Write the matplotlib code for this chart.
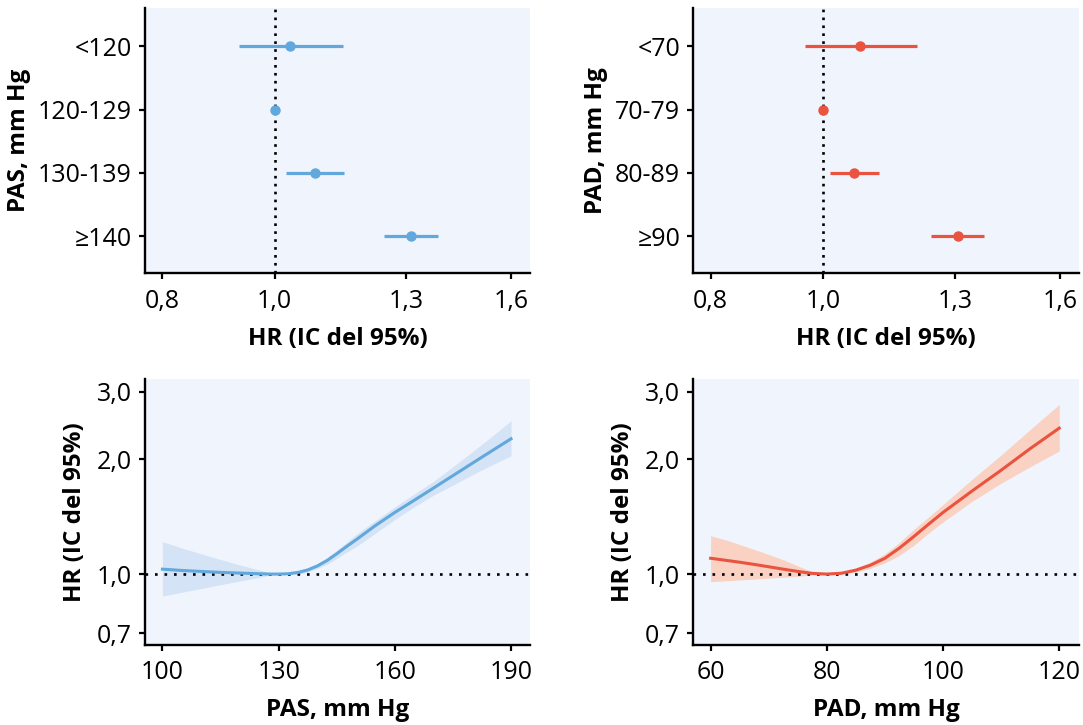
import numpy as np
import matplotlib
matplotlib.use('Agg')
import matplotlib.pyplot as plt
from matplotlib.ticker import FixedLocator, NullLocator

plt.rcParams['font.family'] = ['Open Sans', 'DejaVu Sans']

# forest plots (HR, IC 95%)
pas_cat = ['<120', '120-129', '130-139', '≥140']
pas_hr = [1.032, 1.0, 1.083, 1.311]
pas_lo = [0.931, 1.0, 1.023, 1.244]
pas_hi = [1.145, 1.0, 1.148, 1.384]

pad_cat = ['<70', '70-79', '80-89', '≥90']
pad_hr = [1.077, 1.0, 1.063, 1.306]
pad_lo = [0.964, 1.0, 1.014, 1.240]
pad_hi = [1.204, 1.0, 1.117, 1.376]

# spline curves
pas_x = [100, 105, 110, 115, 120, 125, 128, 130, 132.5, 135, 137.5, 140, 142.5, 145,
         147.5, 150, 155, 160, 165, 170, 175, 180, 185, 190]
pas_y = [1.03, 1.022, 1.016, 1.01, 1.006, 1.002, 1.0, 1.0, 1.002, 1.01, 1.025, 1.05, 1.085, 1.13,
         1.18, 1.23, 1.34, 1.45, 1.56, 1.68, 1.81, 1.95, 2.10, 2.26]
pas_ylo = [0.876, 0.896, 0.917, 0.938, 0.959, 0.98, 0.995, 1.0, 0.998, 1.0, 1.012, 1.035, 1.06, 1.10,
           1.14, 1.18, 1.28, 1.39, 1.50, 1.61, 1.71, 1.82, 1.93, 2.04]
pas_yhi = [1.215, 1.17, 1.13, 1.092, 1.056, 1.025, 1.006, 1.0, 1.006, 1.02, 1.04, 1.065, 1.105, 1.155,
           1.21, 1.27, 1.38, 1.50, 1.62, 1.75, 1.91, 2.09, 2.29, 2.52]

pad_x = [60, 62.5, 65, 67.5, 70, 72.5, 75, 77.5, 80, 82.5, 85, 87.5, 90, 92.5, 95, 97.5,
         100, 105, 110, 115, 120]
pad_y = [1.10, 1.087, 1.074, 1.06, 1.045, 1.03, 1.016, 1.004, 1.0, 1.005, 1.024, 1.055, 1.10, 1.17,
         1.255, 1.35, 1.45, 1.65, 1.87, 2.13, 2.41]
pad_ylo = [0.955, 0.96, 0.965, 0.97, 0.976, 0.981, 0.987, 0.995, 1.0, 1.0, 1.012, 1.035, 1.07, 1.12,
           1.19, 1.28, 1.37, 1.55, 1.73, 1.91, 2.10]
pad_yhi = [1.26, 1.23, 1.195, 1.16, 1.125, 1.09, 1.05, 1.015, 1.0, 1.01, 1.035, 1.075, 1.13, 1.21,
           1.31, 1.41, 1.52, 1.77, 2.05, 2.39, 2.78]

hr_ticks = [0.8, 1.0, 1.3, 1.6]
hr_ticklabels = ['0,8', '1,0', '1,3', '1,6']
curve_yticks = [0.7, 1.0, 2.0, 3.0]
curve_yticklabels = ['0,7', '1,0', '2,0', '3,0']
pas_xticks = [100, 130, 160, 190]
pad_xticks = [60, 80, 100, 120]

blue = '#62a8dc'
blue_band = '#d4e3f5'
red = '#e9533f'
red_band = '#f9d2c3'
bg = '#f0f4fc'

fig = plt.figure(figsize=(10.83, 7.25), dpi=100)
ax_tl = fig.add_axes([0.1339, 0.623, 0.3555, 0.3655])
ax_tr = fig.add_axes([0.6402, 0.623, 0.3561, 0.3655])
ax_bl = fig.add_axes([0.1339, 0.1103, 0.3555, 0.3669])
ax_br = fig.add_axes([0.6398, 0.1103, 0.3565, 0.3669])


def style(ax):
    ax.set_facecolor(bg)
    for s in ['top', 'right']:
        ax.spines[s].set_visible(False)
    for s in ['left', 'bottom']:
        ax.spines[s].set_linewidth(1.7)
    ax.tick_params(width=1.6, length=4.5, labelsize=18, pad=5)
    ax.tick_params(axis='x', pad=6.5)


def forest(ax, cats, hr, lo, hi, col, ylab):
    style(ax)
    ypos = np.arange(len(cats))
    ax.axvline(1.0, color='black', lw=1.9, ls=(0, (1, 2.0)), zorder=1)
    err = [np.array(hr) - np.array(lo), np.array(hi) - np.array(hr)]
    ax.errorbar(hr, ypos, xerr=err, fmt='o', color=col, ms=6.5, elinewidth=2.3,
                capsize=0, zorder=3)
    ax.set_xscale('log')
    ax.xaxis.set_major_locator(FixedLocator(hr_ticks))
    ax.xaxis.set_minor_locator(NullLocator())
    ax.set_xticklabels(hr_ticklabels)
    ax.set_xlim(0.773, 1.662)
    ax.set_yticks(ypos)
    ax.set_yticklabels(cats)
    ax.set_ylim(3.59, -0.6)
    ax.set_xlabel('HR (IC del 95%)', fontsize=17.5, fontweight='bold', labelpad=10)
    ax.set_ylabel(ylab, fontsize=17.5, fontweight='bold', labelpad=5)


def curve(ax, x, y, lo, hi, col, band, xticks, xlim, xlab):
    style(ax)
    ax.fill_between(x, lo, hi, color=band, lw=0, zorder=1)
    ax.axhline(1.0, color='black', lw=1.9, ls=(0, (1, 2.6)), zorder=2)
    ax.plot(x, y, color=col, lw=2.2, zorder=3)
    ax.set_yscale('log')
    ax.yaxis.set_major_locator(FixedLocator(curve_yticks))
    ax.yaxis.set_minor_locator(NullLocator())
    ax.set_yticklabels(curve_yticklabels)
    ax.set_ylim(0.652, 3.24)
    ax.set_xticks(xticks)
    ax.set_xlim(*xlim)
    ax.set_xlabel(xlab, fontsize=17.5, fontweight='bold', labelpad=9)
    ax.set_ylabel('HR (IC del 95%)', fontsize=17.5, fontweight='bold', labelpad=7)


forest(ax_tl, pas_cat, pas_hr, pas_lo, pas_hi, blue, 'PAS, mm Hg')
forest(ax_tr, pad_cat, pad_hr, pad_lo, pad_hi, red, 'PAD, mm Hg')
curve(ax_bl, pas_x, pas_y, pas_ylo, pas_yhi, blue, blue_band, pas_xticks, (95.5, 194.9), 'PAS, mm Hg')
curve(ax_br, pad_x, pad_y, pad_ylo, pad_yhi, red, red_band, pad_xticks, (56.95, 123.4), 'PAD, mm Hg')

fig.savefig('out.png', dpi=100)
